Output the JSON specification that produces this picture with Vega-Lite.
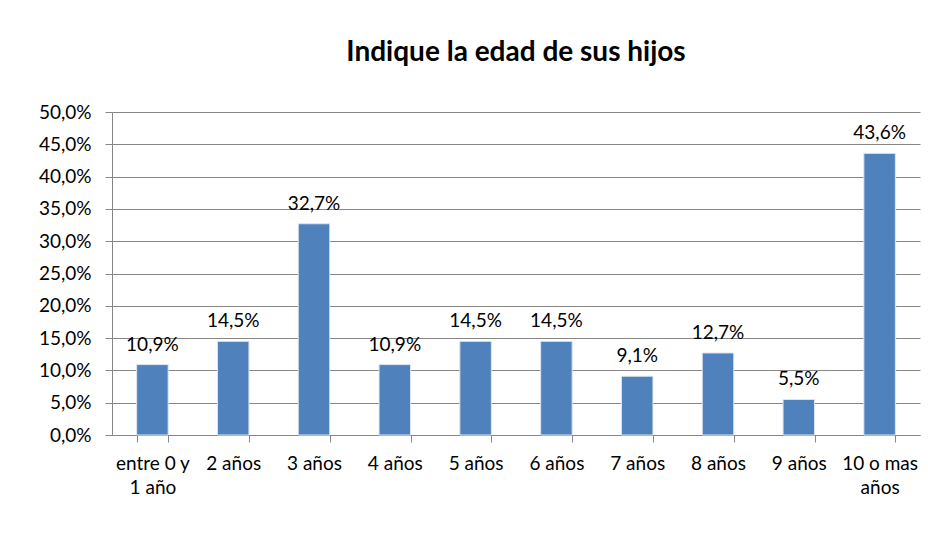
{
  "$schema": "https://vega.github.io/schema/vega-lite/v6.json",
  "width": 808,
  "height": 323,
  "autosize": {"type": "none"},
  "padding": {"left": 112, "top": 112, "right": 8, "bottom": 119},
  "background": "white",
  "config": {
    "locale": {"number": {"decimal": ",", "thousands": ".", "grouping": [3], "currency": ["", " €"]}},
    "view": {"stroke": null},
    "font": "Lato"
  },
  "title": {
    "text": "Indique la edad de sus hijos",
    "font": "Lato",
    "fontSize": 28,
    "fontWeight": "bold",
    "color": "#000000",
    "anchor": "middle",
    "offset": 36
  },
  "data": {
    "values": [
      {"edad": "entre 0 y 1 año", "pct": 0.109},
      {"edad": "2 años", "pct": 0.145},
      {"edad": "3 años", "pct": 0.327},
      {"edad": "4 años", "pct": 0.109},
      {"edad": "5 años", "pct": 0.145},
      {"edad": "6 años", "pct": 0.145},
      {"edad": "7 años", "pct": 0.091},
      {"edad": "8 años", "pct": 0.127},
      {"edad": "9 años", "pct": 0.055},
      {"edad": "10 o mas años", "pct": 0.436}
    ]
  },
  "encoding": {
    "x": {
      "field": "edad",
      "type": "nominal",
      "sort": null,
      "scale": {"paddingInner": 0.61, "paddingOuter": 0.305},
      "axis": {
        "title": null,
        "labelAngle": 0,
        "labelFont": "Lato",
        "labelFontSize": 19,
        "labelColor": "#000000",
        "labelPadding": 12,
        "labelLineHeight": 24,
        "labelExpr": "datum.value == 'entre 0 y 1 año' ? ['entre 0 y', '1 año'] : datum.value == '10 o mas años' ? ['10 o mas', 'años'] : datum.value",
        "tickBand": "extent",
        "tickSize": 7,
        "tickColor": "#868686",
        "domainColor": "#868686",
        "grid": false
      }
    },
    "y": {
      "field": "pct",
      "type": "quantitative",
      "scale": {"domain": [0, 0.5]},
      "axis": {
        "title": null,
        "format": ".1%",
        "values": [0, 0.05, 0.1, 0.15, 0.2, 0.25, 0.3, 0.35, 0.4, 0.45, 0.5],
        "labelFont": "Lato",
        "labelFontSize": 19,
        "labelColor": "#000000",
        "labelPadding": 14,
        "tickSize": 7,
        "tickColor": "#868686",
        "domainColor": "#868686",
        "gridColor": "#868686",
        "grid": true
      }
    }
  },
  "layer": [
    {"mark": {"type": "bar", "color": "#4F81BD", "stroke": "#dfe6f0", "strokeWidth": 1}},
    {
      "mark": {"type": "text", "baseline": "alphabetic", "dy": -14, "font": "Lato", "fontSize": 19, "color": "#000000"},
      "encoding": {"text": {"field": "pct", "type": "quantitative", "format": ".1%"}}
    }
  ]
}
